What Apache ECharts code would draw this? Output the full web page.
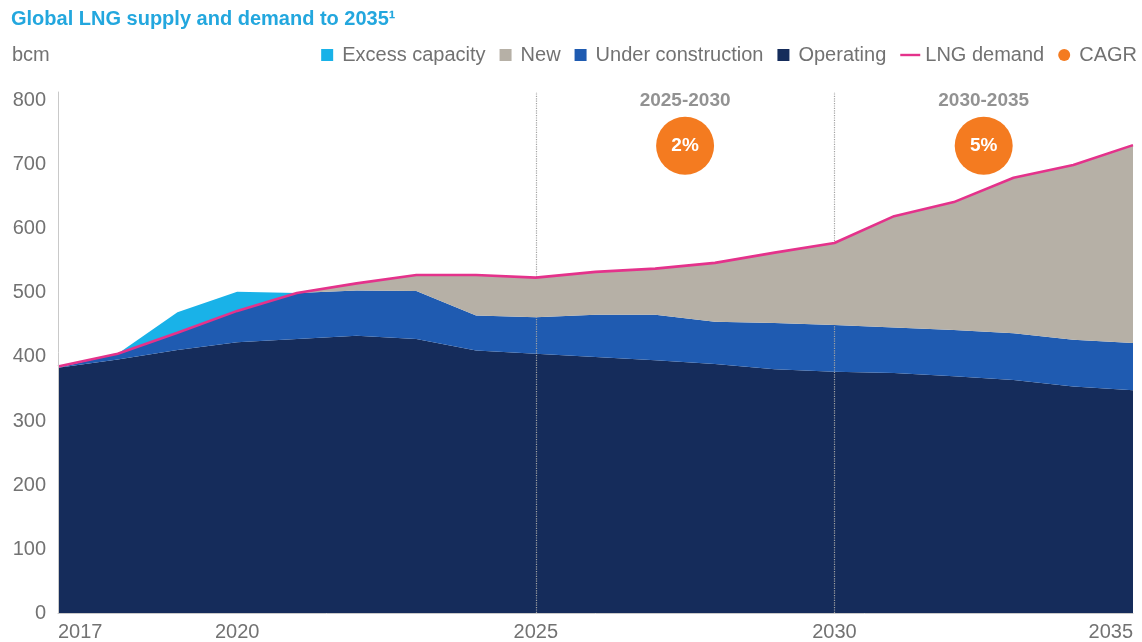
<!DOCTYPE html>
<html>
<head>
<meta charset="utf-8">
<title>Global LNG supply and demand to 2035</title>
<script src="https://cdn.jsdelivr.net/npm/echarts@6/dist/echarts.min.js"></script>
<style>
  html, body { margin: 0; padding: 0; background: #ffffff; }
  #chart { width: 1142px; height: 642px; }
</style>
</head>
<body>
<div id="chart"></div>
<script>
// Years along the horizontal axis
const years = [2017, 2018, 2019, 2020, 2021, 2022, 2023, 2024, 2025, 2026,
               2027, 2028, 2029, 2030, 2031, 2032, 2033, 2034, 2035];
// Year labels printed under the axis
const yearTicks = [2017, 2020, 2025, 2030, 2035];

// Supply capacity by status, bcm (stacked from the bottom up)
const operating         = [383, 396, 411, 423, 428, 433, 428, 410, 405, 400, 395, 389, 381, 377, 375, 370, 364, 354, 348];
const underConstruction = [  0,   9,  27,  49,  72,  71,  75,  55,  57,  66,  71,  66,  72,  73,  71,  72,  73,  73,  74];
const excessCapacity    = [  0,   0,  32,  30,   0,   0,   0,   0,   0,   0,   0,   0,   0,   0,   0,   0,   0,   0,   0];
const newCapacity       = [  0,   0,   0,   0,   0,  11,  25,  63,  62,  67,  72,  92, 110, 128, 174, 200, 243, 273, 309];

// LNG demand, bcm
const lngDemand = [385, 405, 438, 472, 500, 515, 528, 528, 524, 533, 538, 547, 563, 578, 620, 642, 680, 700, 731];

// Compound annual growth rate of demand for each period, %
const cagrPeriods = [[2025, 2030], [2030, 2035]];
const cagrRates = [2, 5];

// Value-axis ticks
const valueTicks = [0, 100, 200, 300, 400, 500, 600, 700, 800];

const COLORS = {
  operating: '#152c5b',
  construction: '#1f5bb1',
  newCap: '#b6b0a6',
  excess: '#19b2e8',
  demand: '#e4328b',
  cagr: '#f47b20',
  title: '#23a7de',
  text: '#727272',
  axis: '#c9c9c9'
};
const FONT = '"Liberation Sans", Arial, Helvetica, sans-serif';
const BADGE_Y = 730;   // height of the CAGR badges on the value scale
const PERIOD_Y = 800;  // height of the period captions on the value scale

const chart = echarts.init(document.getElementById('chart'), null, { renderer: 'canvas' });

function areaSeries(name, values, color, z) {
  return {
    name: name,
    type: 'line',
    stack: 'supply',
    data: values,
    symbol: 'none',
    smooth: false,
    lineStyle: { width: 0, color: color },
    itemStyle: { color: color },
    areaStyle: { color: color, opacity: 1 },
    z: z,
    silent: true
  };
}

const squareIcon = 'path://M0,0L12,0L12,12L0,12Z';
const lineIcon = 'path://M0,0L20,0L20,2.4L0,2.4Z';

const option = {
  animation: false,
  textStyle: { fontFamily: FONT },
  title: [
    {
      text: 'Global LNG supply and demand to 2035\u00B9',
      left: 11, top: 9, padding: 0,
      textStyle: { fontFamily: FONT, fontSize: 20, fontWeight: 'bold', color: COLORS.title }
    },
    {
      text: 'bcm',
      left: 12, top: 45, padding: 0,
      textStyle: { fontFamily: FONT, fontSize: 20, fontWeight: 'normal', color: COLORS.text }
    }
  ],
  legend: {
    right: 5, top: 45, padding: 0,
    itemWidth: 20, itemHeight: 12, itemGap: 14, itemTextGap: 2,
    selectedMode: false,
    textStyle: { fontFamily: FONT, fontSize: 20, color: COLORS.text, lineHeight: 20 },
    data: [
      { name: 'Excess capacity', icon: squareIcon },
      { name: 'New', icon: squareIcon },
      { name: 'Under construction', icon: squareIcon },
      { name: 'Operating', icon: squareIcon },
      { name: 'LNG demand', icon: lineIcon },
      { name: 'CAGR', icon: 'circle' }
    ]
  },
  grid: { left: 58, right: 9, top: 92, bottom: 28, containLabel: false },
  xAxis: [
    {
      type: 'category',
      data: years.map(String),
      boundaryGap: false,
      axisLine: { show: true, lineStyle: { color: COLORS.axis, width: 1 } },
      axisTick: { show: false },
      splitLine: { show: false },
      axisLabel: {
        interval: function (index, value) { return yearTicks.indexOf(Number(value)) !== -1; },
        margin: 9,
        fontFamily: FONT, fontSize: 20, color: COLORS.text,
        alignMinLabel: 'left', alignMaxLabel: 'right',
        showMinLabel: true, showMaxLabel: true
      },
      z: 10
    },
    {
      // Continuous year scale used to centre the CAGR badges within each period
      type: 'value',
      min: years[0], max: years[years.length - 1],
      show: false
    }
  ],
  yAxis: {
    type: 'value',
    min: 0, max: 814, interval: 100,
    axisLine: { show: true, lineStyle: { color: COLORS.axis, width: 1 } },
    axisTick: { show: false },
    splitLine: { show: false },
    axisLabel: {
      margin: 12,
      fontFamily: FONT, fontSize: 20, color: COLORS.text,
      formatter: function (v) { return valueTicks.indexOf(v) !== -1 ? String(v) : ''; }
    },
    z: 10
  },
  series: [
    areaSeries('Operating', operating, COLORS.operating, 2),
    areaSeries('Under construction', underConstruction, COLORS.construction, 3),
    areaSeries('Excess capacity', excessCapacity, COLORS.excess, 4),
    areaSeries('New', newCapacity, COLORS.newCap, 5),
    {
      name: 'LNG demand',
      type: 'line',
      data: lngDemand,
      symbol: 'none',
      lineStyle: { width: 2.6, color: COLORS.demand },
      itemStyle: { color: COLORS.demand },
      z: 8,
      silent: true,
      // Dotted separators at the start of each CAGR period
      markLine: {
        silent: true,
        symbol: 'none',
        label: { show: false },
        lineStyle: { color: '#a3a3a3', type: 'dotted', width: 1.2 },
        data: cagrPeriods.map(function (p) { return { xAxis: String(p[0]) }; })
      }
    },
    {
      name: 'CAGR',
      type: 'scatter',
      xAxisIndex: 1,
      symbol: 'circle',
      symbolSize: 58,
      itemStyle: { color: COLORS.cagr, opacity: 1 },
      data: cagrPeriods.map(function (p) { return [(p[0] + p[1]) / 2, BADGE_Y]; }),
      label: {
        show: true, position: 'inside',
        fontFamily: FONT, fontSize: 19, fontWeight: 'bold', color: '#ffffff',
        formatter: function (p) { return cagrRates[p.dataIndex] + '%'; }
      },
      z: 12,
      silent: true
    },
    {
      name: 'period',
      type: 'scatter',
      xAxisIndex: 1,
      symbolSize: 1,
      itemStyle: { color: 'rgba(0,0,0,0)' },
      data: cagrPeriods.map(function (p) { return [(p[0] + p[1]) / 2, PERIOD_Y]; }),
      label: {
        show: true, position: 'inside',
        fontFamily: FONT, fontSize: 19, fontWeight: 'bold', color: '#777777',
        formatter: function (p) { return cagrPeriods[p.dataIndex][0] + '-' + cagrPeriods[p.dataIndex][1]; }
      },
      z: 12,
      silent: true
    }
  ]
};

chart.setOption(option);
</script>
</body>
</html>
